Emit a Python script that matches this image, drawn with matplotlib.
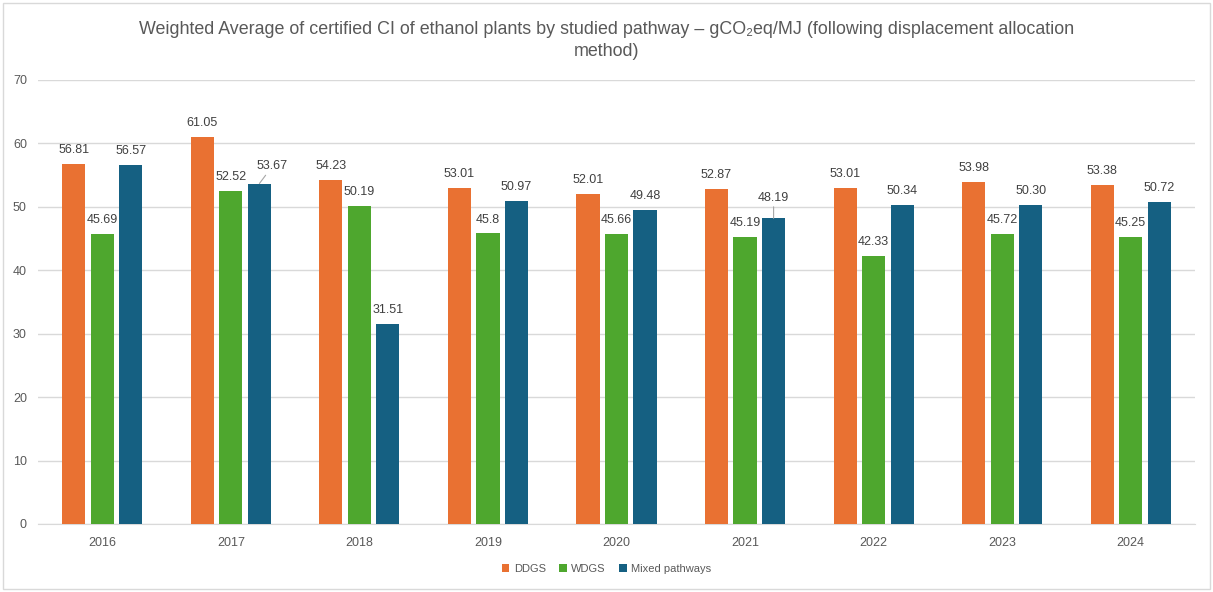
import matplotlib
matplotlib.use("Agg")
import matplotlib.pyplot as plt
import numpy as np
from matplotlib.patches import Rectangle

years = ["2016", "2017", "2018", "2019", "2020", "2021", "2022", "2023", "2024"]
ddgs = [56.81, 61.05, 54.23, 53.01, 52.01, 52.87, 53.01, 53.98, 53.38]
wdgs = [45.69, 52.52, 50.19, 45.8, 45.66, 45.19, 42.33, 45.72, 45.25]
mixed = [56.57, 53.67, 31.51, 50.97, 49.48, 48.19, 50.34, 50.30, 50.72]
ddgs_lbl = ["56.81", "61.05", "54.23", "53.01", "52.01", "52.87", "53.01", "53.98", "53.38"]
wdgs_lbl = ["45.69", "52.52", "50.19", "45.8", "45.66", "45.19", "42.33", "45.72", "45.25"]
mixed_lbl = ["56.57", "53.67", "31.51", "50.97", "49.48", "48.19", "50.34", "50.30", "50.72"]
series_names = ["DDGS", "WDGS", "Mixed pathways"]

colors = ["#E97132", "#4EA72E", "#156082"]
text_col = "#595959"
value_col = "#404040"
grid_col = "#D9D9D9"
label_font = ["Liberation Sans", "DejaVu Sans"]
title_font = ["Liberation Sans", "DejaVu Sans"]

W, H = 1213, 592
fig = plt.figure(figsize=(W / 100, H / 100), dpi=100)
fig.patch.set_facecolor("white")
fig.add_artist(Rectangle((3 / W, 3 / H), 1 - 6 / W, 1 - 6 / H, transform=fig.transFigure,
                         fill=False, edgecolor=grid_col, linewidth=1.0))

ax = fig.add_axes([38 / W, (H - 524) / H, 1157 / W, 444 / H])
x = np.arange(len(years))
bw = 0.18
step = 0.222

for i, (vals, lbls) in enumerate(zip([ddgs, wdgs, mixed], [ddgs_lbl, wdgs_lbl, mixed_lbl])):
    xs = x + (i - 1) * step
    ax.bar(xs, vals, width=bw, color=colors[i], label=series_names[i], zorder=3)
    for j, (xx, v, t) in enumerate(zip(xs, vals, lbls)):
        if i == 2 and years[j] == "2017":
            ax.annotate(t, xy=(xx, v), xytext=(xx + 0.1, v + 2.7), ha="center", va="center",
                        fontsize=9, color=value_col, family=label_font,
                        arrowprops=dict(arrowstyle="-", color="#A6A6A6", lw=0.8,
                                        shrinkA=0, shrinkB=0))
        elif i == 2 and years[j] == "2021":
            ax.annotate(t, xy=(xx, v), xytext=(xx, v + 3.2), ha="center", va="center",
                        fontsize=9, color=value_col, family=label_font,
                        arrowprops=dict(arrowstyle="-", color="#A6A6A6", lw=0.8,
                                        shrinkA=0, shrinkB=0))
        else:
            ax.text(xx, v + 2.2, t, ha="center", va="center", fontsize=9,
                    color=value_col, family=label_font)

ax.set_xlim(-0.5, len(years) - 0.5)
ax.set_ylim(0, 70)
ax.set_yticks(np.arange(0, 71, 10))
ax.set_xticks(x)
ax.set_xticklabels(years)
ax.grid(axis="y", color=grid_col, linewidth=1.0, zorder=0)
for s in ["top", "right", "left"]:
    ax.spines[s].set_visible(False)
ax.spines["bottom"].set_color(grid_col)
ax.tick_params(axis="both", length=0, labelsize=9, colors=text_col)
ax.tick_params(axis="x", pad=9)
ax.tick_params(axis="y", pad=8)
for lab in ax.get_xticklabels() + ax.get_yticklabels():
    lab.set_family(label_font)

fig.text(0.5, 1 - 29 / H,
         "Weighted Average of certified CI of ethanol plants by studied pathway \u2013 gCO\u2082eq/MJ (following displacement allocation",
         ha="center", va="center", fontsize=12.9, color=text_col, family=title_font)
fig.text(0.5, 1 - 52 / H, "method)", ha="center", va="center", fontsize=12.9,
         color=text_col, family=title_font)

leg = fig.legend(loc="center", bbox_to_anchor=(0.5, 1 - 569 / H), ncol=3, frameon=False,
                 handlelength=0.7, handleheight=0.7, handletextpad=0.4,
                 columnspacing=1.2, prop={"family": label_font, "size": 8})
for t in leg.get_texts():
    t.set_color(text_col)

fig.savefig("out.png", dpi=100, facecolor="white")
